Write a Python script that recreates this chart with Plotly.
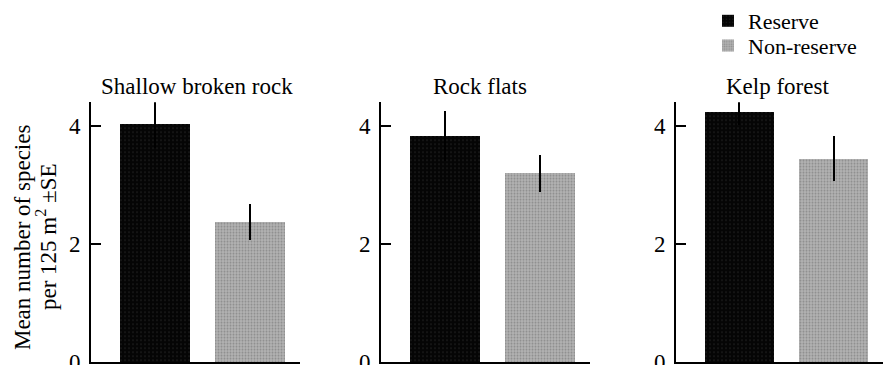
import plotly.graph_objects as go

# ---- data ----
habitats = ["Shallow broken rock", "Rock flats", "Kelp forest"]
groups = ["Reserve", "Non-reserve"]
reserve_mean = [4.03, 3.83, 4.23]
reserve_se = [0.41, 0.42, 0.22]
nonreserve_mean = [2.37, 3.19, 3.44]
nonreserve_se = [0.30, 0.31, 0.38]
y_ticks = [0, 2, 4]
y_title_lines = ["Mean number of species", "per 125 m<sup>2</sup> ±SE"]

# ---- styles / layout ----
W, H = 889, 365
FONT = "Liberation Serif"
panel_px = [(91, 300), (381, 590), (676, 883)]
title_pos = [0.507, 0.474, 0.488]
y_dom = [3 / H, (H - 100) / H]
legend_rows = [18, 43]

res_style = dict(color="#080808",
                 pattern=dict(shape=".", fgcolor="#3a3a3a", bgcolor="#050505", size=4, solidity=0.15),
                 line=dict(width=0))
non_style = dict(color="#9a9a9a",
                 pattern=dict(shape=".", fgcolor="#666666", bgcolor="#b3b3b3", size=3, solidity=0.35),
                 line=dict(width=0))

fig = go.Figure()
for i, hab in enumerate(habitats):
    ax = "" if i == 0 else str(i + 1)
    fig.add_trace(go.Bar(
        x=[groups[0]], y=[reserve_mean[i]], name=groups[0],
        error_y=dict(type="data", array=[reserve_se[i]], color="black", thickness=2, width=0),
        marker=res_style, width=0.74, showlegend=(i == 0), legend="legend",
        cliponaxis=False, xaxis="x" + ax, yaxis="y" + ax))
    fig.add_trace(go.Bar(
        x=[groups[1]], y=[nonreserve_mean[i]], name=groups[1],
        error_y=dict(type="data", array=[nonreserve_se[i]], color="black", thickness=2, width=0),
        marker=non_style, width=0.74, showlegend=(i == 0), legend="legend2",
        cliponaxis=False, xaxis="x" + ax, yaxis="y" + ax))

leg_common = dict(x=708 / W, xanchor="left", yanchor="middle",
                  font=dict(family=FONT, size=22, color="black"),
                  bgcolor="rgba(0,0,0,0)", itemwidth=30)
layout = dict(
    width=W, height=H,
    margin=dict(l=0, r=0, t=0, b=0),
    paper_bgcolor="white", plot_bgcolor="white",
    font=dict(family=FONT, size=23, color="black"),
    bargap=0,
    legend=dict(y=1 - legend_rows[0] / H, **leg_common),
    legend2=dict(y=1 - legend_rows[1] / H, **leg_common),
    annotations=[],
)
for i, hab in enumerate(habitats):
    ax = "" if i == 0 else str(i + 1)
    x0, x1 = panel_px[i]
    layout["xaxis" + ax] = dict(
        domain=[x0 / W, x1 / W], anchor="y" + ax, type="category",
        categoryorder="array", categoryarray=groups,
        range=[-0.674, 1.526], showline=True, linecolor="black", linewidth=2,
        showticklabels=False, ticks="", showgrid=False, zeroline=False, fixedrange=True)
    layout["yaxis" + ax] = dict(
        domain=y_dom, anchor="x" + ax, range=[0, 4.4],
        tickvals=y_ticks, ticktext=[str(v) for v in y_ticks],
        ticks="inside", ticklen=10, tickwidth=1.5, tickcolor="black",
        showline=True, linecolor="black", linewidth=2,
        showgrid=False, zeroline=False, automargin=False,
        ticklabeloverflow="allow",
        tickfont=dict(family=FONT, size=23, color="black"), ticklabelstandoff=4)
    layout["annotations"].append(dict(
        text=hab, xref=f"x{ax} domain", yref=f"y{ax} domain",
        x=title_pos[i], y=1, xanchor="center", yanchor="bottom", yshift=1,
        showarrow=False, font=dict(family=FONT, size=23, color="black")))

for k, (line, xc) in enumerate(zip(y_title_lines, [22, 46])):
    layout["annotations"].append(dict(
        text=line, xref="paper", yref="paper", x=xc / W, y=(H - 236) / H,
        xanchor="center", yanchor="middle", textangle=-90, showarrow=False,
        font=dict(family=FONT, size=23, color="black")))

fig.update_layout(**layout)
fig.write_html("out.html", config={"displayModeBar": False},
               post_script="document.body.style.margin='0';document.body.style.overflow='hidden';")
